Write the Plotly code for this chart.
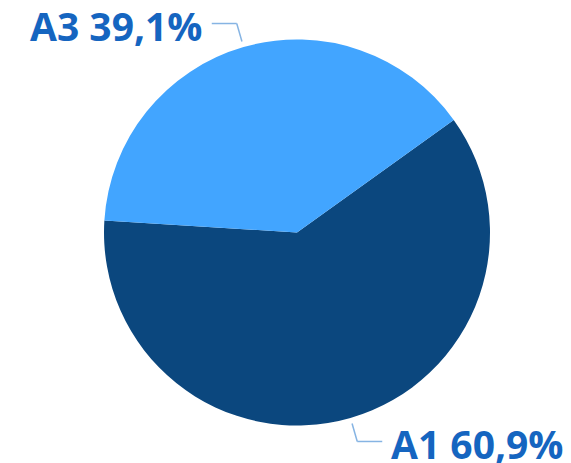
import math
import plotly.graph_objects as go

labels = ["A1", "A3"]
values = [60.9, 39.1]
display = ["60,9%", "39,1%"]
colors = ["#0b477e", "#42a5ff"]

W, H = 571, 463
cx, cy, R = 297, 232.5, 193  # pixel geometry of the pie
rotation = 54.3

dom_x = [(cx - R) / W, (cx + R) / W]
dom_y = [1 - (cy + R) / H, 1 - (cy - R) / H]

fig = go.Figure(go.Pie(
    labels=labels, values=values, sort=False, direction="clockwise",
    rotation=rotation, textinfo="none", hoverinfo="label+percent",
    marker=dict(colors=colors, line=dict(width=0)),
    domain=dict(x=dom_x, y=dom_y), showlegend=False,
))

def px(x, y):
    return x / W, 1 - y / H

shapes, annotations = [], []
total = sum(values)
start = rotation
for lab, val, txt in zip(labels, values, display):
    span = val / total * 360
    mid = start + span / 2  # compass degrees, clockwise from 12 o'clock
    start += span
    a = math.radians(mid)
    dx, dy = math.sin(a), -math.cos(a)
    x0, y0 = cx + dx * R * 1.03, cy + dy * R * 1.03
    x1, y1 = x0 + dx * 18.7, y0 + dy * 18.7
    side = 1 if dx > 0 else -1
    x2 = x1 + side * 25
    for (ax, ay, bx, by) in [(x0, y0, x1, y1), (x1, y1, x2, y1)]:
        p, q = px(ax, ay), px(bx, by)
        shapes.append(dict(type="line", xref="paper", yref="paper",
                           x0=p[0], y0=p[1], x1=q[0], y1=q[1],
                           line=dict(color="#86b4e3", width=1.5)))
    tx, ty = px(x2 + side * 7, y1 + 2)
    annotations.append(dict(
        x=tx, y=ty, xref="paper", yref="paper", showarrow=False,
        text=f"<b>{lab} {txt}</b>", xanchor="left" if side > 0 else "right",
        yanchor="middle",
        font=dict(family="Open Sans", size=39, color="#1565c0"),
    ))

fig.update_layout(
    width=W, height=H, margin=dict(l=0, r=0, t=0, b=0),
    paper_bgcolor="white", plot_bgcolor="white",
    shapes=shapes, annotations=annotations,
)
fig.write_html("out.html", config={"displayModeBar": False},
               post_script="document.body.style.margin='0';")
